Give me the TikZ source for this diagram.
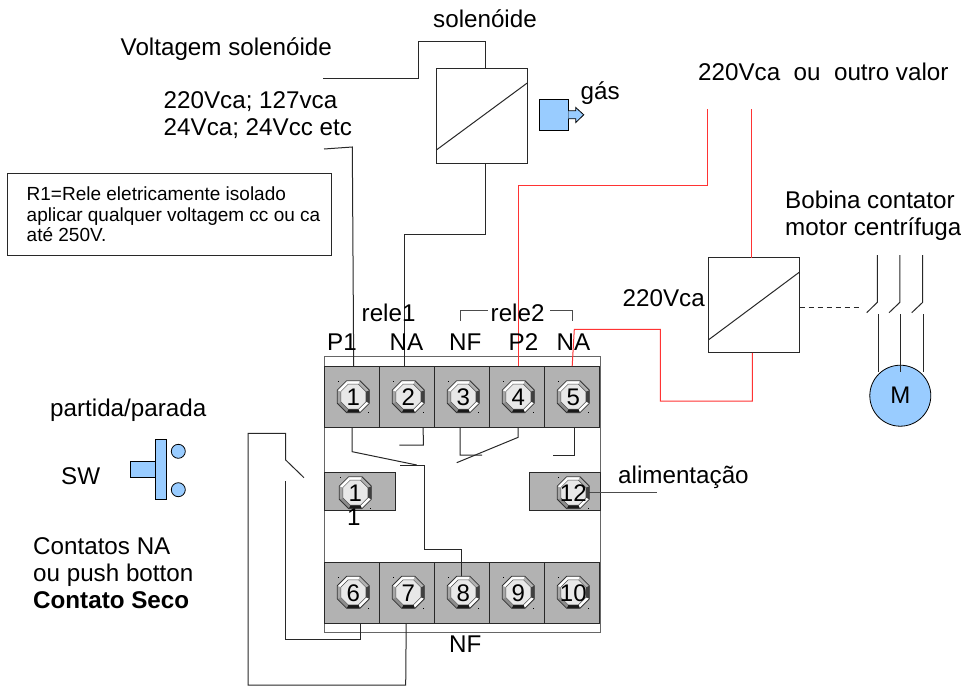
\documentclass[tikz,border=0pt]{standalone}
\usepackage{fontspec}
\setmainfont{Liberation Sans}
\usepackage{xcolor}
\definecolor{partblue}{RGB}{153, 204, 255}
\definecolor{cellgray}{RGB}{178, 178, 178}
\definecolor{redline}{RGB}{255, 51, 51}
\definecolor{wiregray}{RGB}{40, 40, 40}
\usetikzlibrary{
    positioning
}
\tikzstyle{wire} = [
    line width=1pt,
    draw=wiregray
]
\tikzstyle{redwire} = [
    line width=1pt,
    draw=redline
]
\tikzstyle{lbl} = [
    anchor=base west,
    inner sep=0pt,
    align=left,
    font=\fontsize{24.2}{27}\selectfont
]
\tikzstyle{cell} = [
    rectangle, draw=wiregray,
    line width=1pt,
    outer sep=0pt,
    fill=cellgray,
    minimum width=55pt,
    minimum height=61.3pt
]
\tikzstyle{coil} = [
    rectangle, draw=wiregray,
    line width=1pt,
    outer sep=0pt,
    fill=white,
    minimum width=91.3pt,
    minimum height=95.3pt
]
\tikzstyle{bluepart} = [
    rectangle, draw=black,
    line width=0.8pt,
    outer sep=0pt,
    inner sep=0pt,
    fill=partblue
]
% one screw of the terminal block
\newcommand{\screw}[4]{
    \begin{scope}[shift={(#2,#3)}]
    \foreach \ang/\shade in {0/black!75, 45/white, 90/black!90, 135/black!45,
                             180/black!35, 225/white, 270/white, 315/black!30}{
        \fill[\shade] (\ang-22.5:17.3) -- (\ang+22.5:17.3)
                   -- (\ang+22.5:13.5) -- (\ang-22.5:13.5) -- cycle;
    }
    \draw[black!80, line width=0.8pt] (22.5:17.3) -- (67.5:17.3) -- (112.5:17.3)
        -- (157.5:17.3) -- (202.5:17.3) -- (247.5:17.3) -- (292.5:17.3)
        -- (337.5:17.3) -- cycle;
    \draw[black!70, line width=0.5pt, fill=black!9] (22.5:13.5) -- (67.5:13.5) -- (112.5:13.5)
        -- (157.5:13.5) -- (202.5:13.5) -- (247.5:13.5) -- (292.5:13.5)
        -- (337.5:13.5) -- cycle;
    \fill[black] (-15.5,-15.5) rectangle ++(1,1);
    \fill[black] (14.7,15.2) rectangle ++(1,1);
    \node (#1) [inner sep=0pt, font=\fontsize{24}{27}\selectfont] at (0,0.5) {#4};
    \end{scope}
}

\begin{document}
\begin{tikzpicture}[x=1pt, y=-1pt, node distance=0pt]
\useasboundingbox (0,0) rectangle (961,686);

% caixa do rele
\draw [wire, black!60] (324.7,356.7) rectangle (600,632);

\node (cellA) [cell] at (352.2,396.7) {};
\node (cellB) [cell, right=of cellA] {};
\node (cellC) [cell, right=of cellB] {};
\node (cellD) [cell, right=of cellC] {};
\node (cellE) [cell, right=of cellD] {};
\node (cellF) [cell] at (352.2,593.3) {};
\node (cellG) [cell, right=of cellF] {};
\node (cellH) [cell, right=of cellG] {};
\node (cellI) [cell, right=of cellH] {};
\node (cellJ) [cell, right=of cellI] {};
\node (cellK) [cell, minimum width=70.6pt, minimum height=38.3pt] at (360,491.8) {};
\node (cellL) [cell, minimum width=70.6pt, minimum height=38.3pt] at (564.7,491.8) {};

% solenoide
\node (solenoid) [coil] at (481.8,116.2) {};
\draw [wire] ([yshift=13.7pt]solenoid.south west) -- ([yshift=-14.3pt]solenoid.north east);
\node (gasblock) [bluepart, minimum width=29.3pt, minimum height=31.7pt] at (553.7,114.8) {};
\draw [bluepart] ([yshift=4pt]gasblock.east) -- ++(7.4,0) -- ++(0,-3.3) -- ++(8,7.3)
    -- ++(-8,7.7) -- ++(0,-3.7) -- ++(-7.4,0);

% contator
\node (contactor) [coil] at (754,305.3) {};
\draw [wire] ([yshift=13pt]contactor.south west) -- ([yshift=-14.3pt]contactor.north east);

% fios do solenoide
\coordinate (voltfree) at (323,78.7);
\coordinate (pfree) at (324,149);
\draw [wire] (voltfree) -- (418.7,78.7) -- (418.7,41.7) -- (485,41.7) -- (485,68.7);
\draw [wire] (pfree) -- (352.3,147) -- ([xshift=1.5pt]cellA.north);
\draw [wire] ([xshift=3.5pt]solenoid.south) -- (485.3,234) -- (404.2,234) -- ([xshift=-3pt]cellB.north);

% fios vermelhos
\coordinate (linea) at (707,109);
\coordinate (lineb) at (751.7,109);
\draw [redwire] ([xshift=1pt]cellD.north) -- (518.2,185) -- (707,185) -- (linea);
\draw [redwire] (lineb) -- ([xshift=-2.3pt]contactor.north);
\draw [redwire] ([xshift=-1.7pt]contactor.south) -- (752.3,401) -- (660.3,401)
    -- (660.3,329.3) -- (574.3,329.3) -- (cellE.north);

% ligacoes internas
\draw [wire] (cellA.south) -- (352.2,451.7) -- (416.7,465);
\draw [wire] (400,465) -- (424,465) -- (424,549) -- (461.3,549) -- (461.3,577);
\draw [wire] ([xshift=16pt]cellB.south) -- (423.3,445) -- (399.3,445);
\draw [wire] ([xshift=-2pt]cellC.south) -- (460,455) -- (482,455);
\draw [wire] ([xshift=1pt]cellD.south) -- (518.2,437.3) -- (456.7,462.7);
\draw [wire] ([xshift=2.5pt]cellE.south) -- (574.7,455) -- (552.7,455);

% botao externo
\coordinate (bladeend) at (304,477.7);
\draw [wire] ([xshift=8pt]cellF.south) -- (360.2,639.3) -- (285.7,639.3) -- (285.7,481.3);
\draw [wire] ([xshift=-1pt]cellG.south) -- (405.7,685) -- (248,685) -- (248,433.3)
    -- (285.7,433.3) -- (285.7,460) -- (bladeend);

% alimentacao
\coordinate (feedfree) at (657.3,492.7);
\draw [wire, black!70] (573.3,492.7) -- (feedfree);

\screw{scrA}{353.3}{396.7}{1}
\screw{scrB}{408.3}{396.7}{2}
\screw{scrC}{463.3}{396.7}{3}
\screw{scrD}{518.3}{396.7}{4}
\screw{scrE}{573.3}{396.7}{5}
\screw{scrF}{353.3}{592.3}{6}
\screw{scrG}{408.3}{592.3}{7}
\screw{scrH}{463.3}{592.3}{8}
\screw{scrI}{518.3}{592.3}{9}
\screw{scrJ}{573.3}{592.3}{10}
\screw{scrK}{355.3}{492.7}{1}
\screw{scrL}{573.3}{492.7}{12}

% motor e contatos
\node (motor) [bluepart, circle, minimum size=61pt, font=\fontsize{24}{27}\selectfont] at (900.3,395.7) {M};
\draw [wire] (877.3,255) -- (877.3,302.3) -- (866.7,312.7);
\draw [wire] (899.9,255) -- (899.9,302.3) -- (889,312.7);
\draw [wire] (922.7,255) -- (922.7,302.3) -- (911.7,312.7);
\draw [wire] (878.3,314) -- (878.3,372);
\draw [wire] (900.7,314) -- (900.7,371.7);
\draw [wire] (923.7,314) -- (923.7,372);
\coordinate (dashend) at (860,307);
\draw [wire, dash pattern=on 5pt off 4pt] ([yshift=-1.7pt]contactor.east) -- (dashend);

% chave partida/parada
\node (swbar) [bluepart, minimum width=11pt, minimum height=60pt] at (161.2,469.3) {};
\node (swstem) [bluepart, minimum width=25.7pt, minimum height=16pt, left=of swbar] {};
\node (swtop) [bluepart, circle, minimum size=14pt] at (178.3,451.3) {};
\node (swbot) [bluepart, circle, minimum size=14pt] at (178.3,489.7) {};

% colchetes rele2
\draw [wire, black!70] (460,320.7) -- (460,310.7) -- (488,310.7);
\draw [wire, black!70] (550,310.4) -- (572.3,310.4) -- (572.3,320.7);

% textos
\node (tsol) [lbl] at (433,27) {solenóide};
\node (tvolt) [lbl] at (120.5,55) {Voltagem solenóide};
\node (tval) [lbl] at (163.5,135) {220Vca; 127vca\\24Vca; 24Vcc etc};
\node (tgas) [lbl] at (580.5,99) {gás};
\node (tline) [lbl] at (698,80) {220Vca\ \ ou\ \ outro valor};
\node (tcoil) [lbl] at (785,235.7) {Bobina contator\\motor centrífuga};
\node (tvca) [lbl] at (622.5,306.7) {220Vca};
\node (trela) [lbl] at (361.5,321) {rele1};
\node (trelb) [lbl] at (490.5,321) {rele2};
\node (tpa) [lbl] at (327,350) {P1};
\node (tna) [lbl] at (389.5,350) {NA};
\node (tnf) [lbl] at (449,350) {NF};
\node (tpb) [lbl] at (508.5,350) {P2};
\node (tnb) [lbl] at (556.5,350) {NA};
\node (tnfb) [lbl] at (449,652.7) {NF};
\node (tone) [lbl] at (347,525) {1};
\node (tfeed) [lbl] at (618,483.3) {alimentação};
\node (tstart) [lbl] at (50,416) {partida/parada};
\node (tsw) [lbl] at (61,484) {SW};
\node (tcont) [lbl] at (33,608) {Contatos NA\\ou push botton\\\textbf{Contato Seco}};

% nota
\node (note) [rectangle, draw=wiregray, line width=1pt, anchor=north west,
    minimum width=324pt, minimum height=82pt] at (7.3,173.3) {};
\node (notetext) [lbl, anchor=base west, font=\fontsize{19}{20.7}\selectfont] at (26.5,241.7)
    {R1=Rele eletricamente isolado\\aplicar qualquer voltagem cc ou ca\\até 250V.};

\end{tikzpicture}
\end{document}
